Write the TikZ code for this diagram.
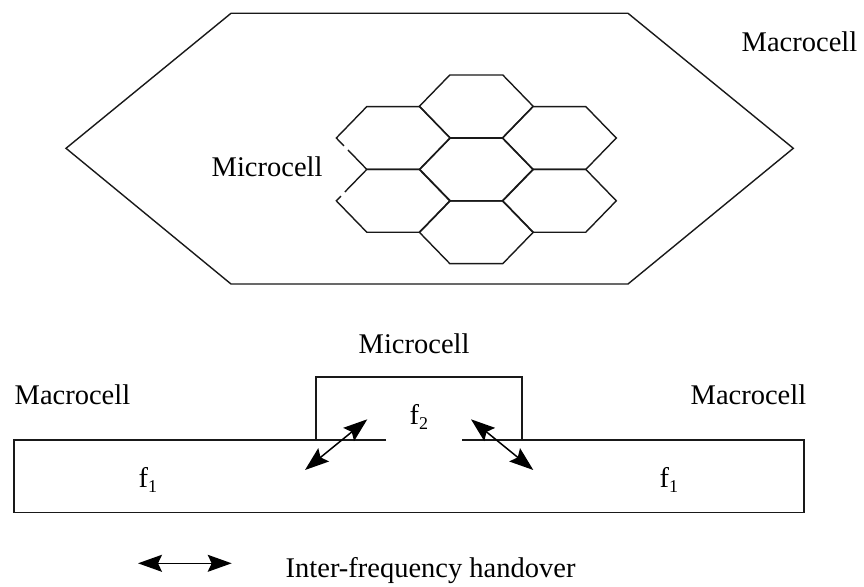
\documentclass[tikz,border=0pt]{standalone}
\usepackage{fontspec}
\setmainfont{Liberation Serif}
\usetikzlibrary{arrows.meta}
% one flat-topped cell of the microcell cluster, centred at (#1,#2)
\newcommand\microhex[2]{%
  \draw[cellline] (#1-57,#2) -- (#1-26.5,#2-31.4) -- (#1+26.5,#2-31.4)
    -- (#1+57,#2) -- (#1+26.5,#2+31.4) -- (#1-26.5,#2+31.4) -- cycle;}
\begin{document}
\begin{tikzpicture}[x=1pt,y=-1pt,line width=1.4pt,line join=miter,
  lbl/.style={anchor=base west,inner sep=0pt,font=\fontsize{28.5}{34}\selectfont},
  cellline/.style={draw=black!90},
  hand/.style={{Stealth[length=24pt,width=17pt,inset=4pt]}-{Stealth[length=24pt,width=17pt,inset=4pt]},line width=1.5pt}]
\useasboundingbox (0,0) rectangle (864,586);

% ---- upper view: macrocell hexagon with microcell cluster ----
\draw[cellline] (66,148.3) -- (231,13.3) -- (628,13.3) -- (793.3,148.3)
  -- (628,284) -- (231,284) -- cycle;

\microhex{476.3}{106.4}
\microhex{476.3}{169.5}
\microhex{476.3}{232.2}
\microhex{559.3}{138}
\microhex{559.3}{200.8}
% left column, outlines broken near the label
\draw[cellline] (343.9,145.9) -- (336.3,138) -- (366.8,106.6) -- (419.8,106.6)
  -- (450.3,138) -- (419.8,169.4) -- (366.8,169.4) -- (347.9,149.9);
\draw[cellline] (344.8,192.0) -- (366.8,169.4) -- (419.8,169.4) -- (450.3,200.8)
  -- (419.8,232.2) -- (366.8,232.2) -- (336.3,200.8) -- (340.9,196.1);

\node[lbl] (macroTop) at (741,51.7) {Macrocell};
\node[lbl] (microTop) at (211,176) {Microcell};

% ---- lower view: frequency layers ----
\draw[cellline] (386,440) -- (14,440) -- (14,512.7) -- (804,512.7) -- (804,440) -- (462,440);
\draw[cellline] (316,440) -- (316,377) -- (522,377) -- (522,440);

\node[lbl] (microBot) at (358,353) {Microcell};
\node[lbl] (macroL) at (14,404) {Macrocell};
\node[lbl] (macroR) at (690,404) {Macrocell};
\node[lbl] (fOneL) at (138,487) {f\raisebox{-0.2em}{\fontsize{18}{18}\selectfont 1}};
\node[lbl] (fOneR) at (659,487) {f\raisebox{-0.2em}{\fontsize{18}{18}\selectfont 1}};
\node[lbl] (fTwo) at (409,424) {f\raisebox{-0.2em}{\fontsize{18}{18}\selectfont 2}};

\coordinate (hoLa) at (305,470);
\coordinate (hoLb) at (367.3,419.3);
\coordinate (hoRa) at (471,419.3);
\coordinate (hoRb) at (533.3,470);
\draw[hand] (hoLa) -- (hoLb);
\draw[hand] (hoRa) -- (hoRb);

% ---- legend ----
\coordinate (keyA) at (138,563.3);
\coordinate (keyB) at (231.7,563.3);
\draw[hand] (keyA) -- (keyB);
\node[lbl] (keyText) at (285,577) {Inter-frequency handover};
\end{tikzpicture}
\end{document}
